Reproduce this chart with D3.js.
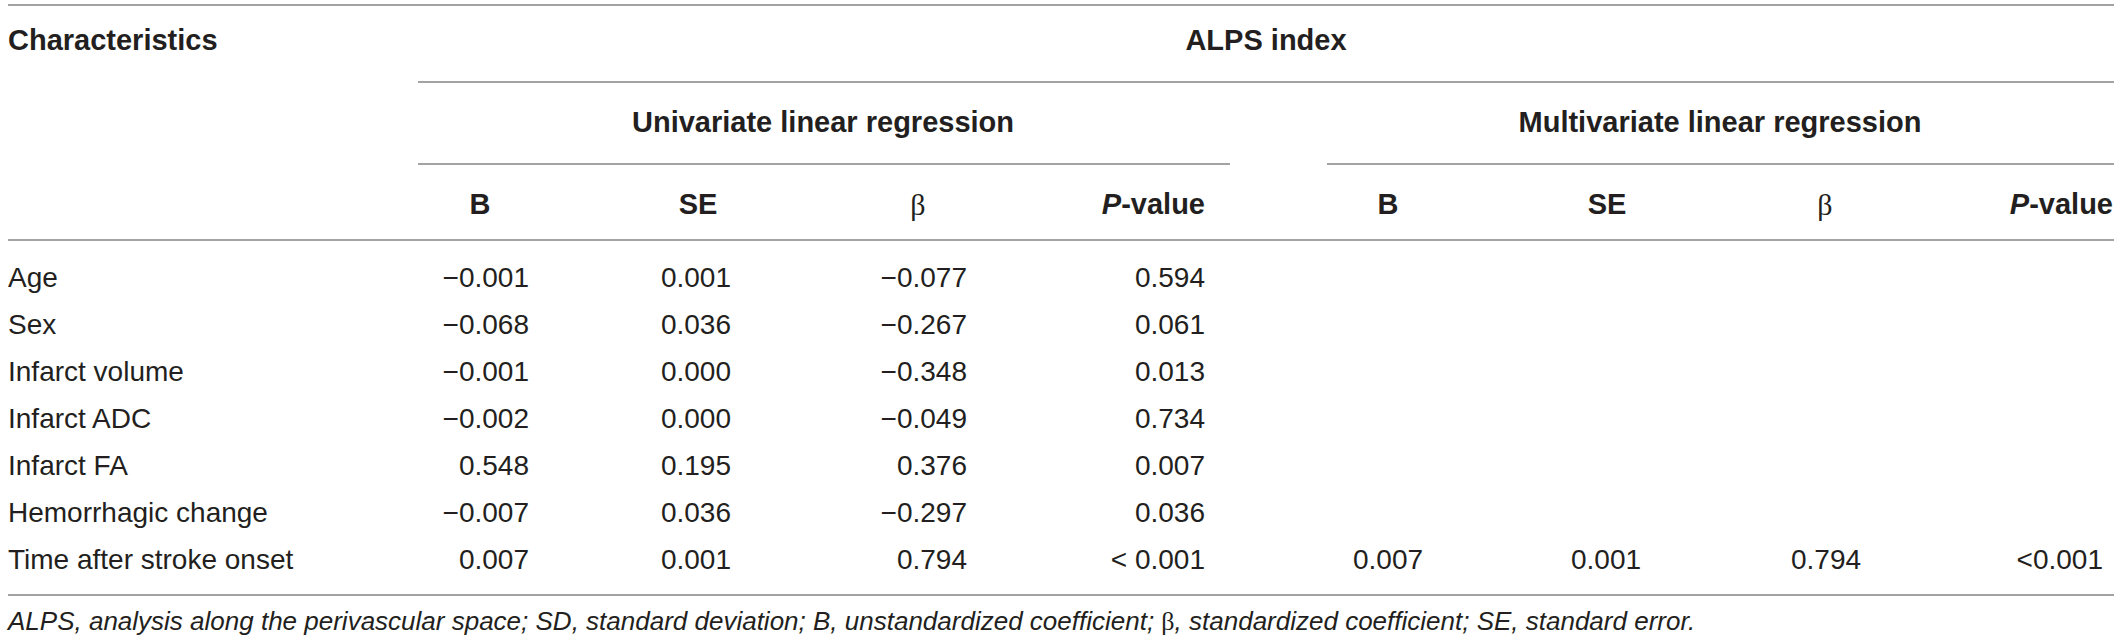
<!DOCTYPE html>
<html>
<head>
<meta charset="utf-8">
<script src="https://cdn.jsdelivr.net/npm/d3@7"></script>
<style>
  body { margin: 0; background: #fff; }
  svg { display: block; font-family: "Liberation Sans", Arial, Helvetica, sans-serif; }
</style>
</head>
<body>
<svg id="table"></svg>
<script>
// table content
var characteristics = ['Age', 'Sex', 'Infarct volume', 'Infarct ADC', 'Infarct FA', 'Hemorrhagic change', 'Time after stroke onset'];
var uniB    = ['\u22120.001', '\u22120.068', '\u22120.001', '\u22120.002', '0.548', '\u22120.007', '0.007'];
var uniSE   = ['0.001', '0.036', '0.000', '0.000', '0.195', '0.036', '0.001'];
var uniBeta = ['\u22120.077', '\u22120.267', '\u22120.348', '\u22120.049', '0.376', '\u22120.297', '0.794'];
var uniP    = ['0.594', '0.061', '0.013', '0.734', '0.007', '0.036', '< 0.001'];
var multiB    = ['', '', '', '', '', '', '0.007'];
var multiSE   = ['', '', '', '', '', '', '0.001'];
var multiBeta = ['', '', '', '', '', '', '0.794'];
var multiP    = ['', '', '', '', '', '', '<0.001'];
var groupLabels = ['Univariate linear regression', 'Multivariate linear regression'];
var colLabels = ['B', 'SE', '\u03b2', 'P-value'];
var footnote = 'ALPS, analysis along the perivascular space; SD, standard deviation; B, unstandardized coefficient; \u03b2, standardized coefficient; SE, standard error.';

var W = 2120, H = 644;
var ink = '#231f20', rule = '#a3a3a3';
var headSize = 29, bodySize = 28;

var svg = d3.select('#table').attr('width', W).attr('height', H);
svg.append('rect').attr('width', W).attr('height', H).attr('fill', '#fff');

// rows
var yRow = d3.scalePoint().domain(characteristics).range([277, 559]);

// columns
var columns = [
  { vals: uniB,      anchor: 'end',    x: 529,  head: 480,  hAnchor: 'middle' },
  { vals: uniSE,     anchor: 'end',    x: 731,  head: 698,  hAnchor: 'middle' },
  { vals: uniBeta,   anchor: 'end',    x: 967,  head: 918,  hAnchor: 'middle' },
  { vals: uniP,      anchor: 'end',    x: 1205, head: 1205, hAnchor: 'end' },
  { vals: multiB,    anchor: 'middle', x: 1388, head: 1388, hAnchor: 'middle' },
  { vals: multiSE,   anchor: 'middle', x: 1606, head: 1607, hAnchor: 'middle' },
  { vals: multiBeta, anchor: 'middle', x: 1826, head: 1825, hAnchor: 'middle' },
  { vals: multiP,    anchor: 'end',    x: 2103, head: 2113, hAnchor: 'end' }
];

// rules
var rules = [
  { y: 5,   x1: 8,    x2: 2114 },
  { y: 82,  x1: 418,  x2: 2114 },
  { y: 164, x1: 418,  x2: 1230 },
  { y: 164, x1: 1327, x2: 2114 },
  { y: 240, x1: 8,    x2: 2114 },
  { y: 595, x1: 8,    x2: 2114 }
];
svg.selectAll('.rule').data(rules).enter().append('line')
  .attr('class', 'rule')
  .attr('x1', d => d.x1).attr('x2', d => d.x2)
  .attr('y1', d => d.y).attr('y2', d => d.y)
  .attr('stroke', rule).attr('stroke-width', 2);

// header row 1
svg.append('text').attr('x', 8).attr('y', 40).attr('dy', '0.35em')
  .attr('font-size', headSize).attr('font-weight', 'bold').attr('fill', ink)
  .text('Characteristics');
svg.append('text').attr('x', 1266).attr('y', 40).attr('dy', '0.35em')
  .attr('text-anchor', 'middle')
  .attr('font-size', headSize).attr('font-weight', 'bold').attr('fill', ink)
  .text('ALPS index');

// header row 2
svg.selectAll('.group').data(groupLabels).enter().append('text')
  .attr('class', 'group')
  .attr('x', (d, i) => i == 0 ? 823 : 1720)
  .attr('y', 122).attr('dy', '0.35em')
  .attr('text-anchor', 'middle')
  .attr('font-size', headSize).attr('font-weight', 'bold').attr('fill', ink)
  .text(d => d);

// header row 3
columns.forEach((c, i) => {
  var label = colLabels[i % 4];
  var t = svg.append('text')
    .attr('x', c.head).attr('y', 204).attr('dy', '0.35em')
    .attr('text-anchor', c.hAnchor)
    .attr('font-size', headSize).attr('fill', ink);
  if (label == '\u03b2') {
    t.attr('font-family', '"Liberation Serif", "DejaVu Serif", serif').attr('font-size', 30).text(label);
  } else if (label == 'P-value') {
    t.attr('font-weight', 'bold');
    t.append('tspan').attr('font-style', 'italic').text('P');
    t.append('tspan').text('-value');
  } else {
    t.attr('font-weight', 'bold').text(label);
  }
});

// body
svg.selectAll('.rowlabel').data(characteristics).enter().append('text')
  .attr('class', 'rowlabel')
  .attr('x', 8).attr('y', d => yRow(d)).attr('dy', '0.35em')
  .attr('font-size', bodySize).attr('fill', ink)
  .text(d => d);

columns.forEach((c, ci) => {
  svg.selectAll('.cell' + ci).data(c.vals).enter().append('text')
    .attr('class', 'cell' + ci)
    .attr('x', c.x).attr('y', (d, i) => yRow(characteristics[i])).attr('dy', '0.35em')
    .attr('text-anchor', c.anchor)
    .attr('font-size', bodySize).attr('fill', ink)
    .text(d => d);
});

// footnote
var fn = svg.append('text').attr('x', 8).attr('y', 621).attr('dy', '0.35em')
  .attr('font-size', 26).attr('font-style', 'italic').attr('fill', ink);
footnote.split('\u03b2').forEach((part, i) => {
  if (i > 0) fn.append('tspan').attr('font-family', '"Liberation Serif", serif').attr('font-style', 'normal').text('\u03b2');
  fn.append('tspan').text(part);
});
</script>
</body>
</html>
